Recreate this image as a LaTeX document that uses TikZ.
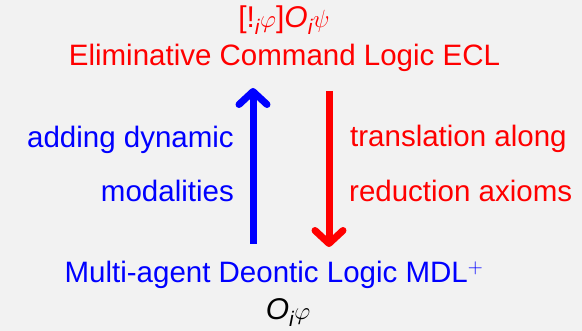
\documentclass[tikz,border=0pt]{standalone}
\usepackage{amsmath}
\usepackage{fontspec}
\setmainfont{Liberation Sans}
\usetikzlibrary{arrows.meta}
\begin{document}
\begin{tikzpicture}[x=1pt,y=-1pt,
  txt/.style={inner sep=0pt,font=\fontsize{29.5}{34}\selectfont},
  frm/.style={inner sep=0pt,font=\fontsize{30}{34}\selectfont},
  arr/.style={line width=7pt,-{Straight Barb[length=13pt,width=28pt,round]}}]
\fill[black!5] (0,0) rectangle (582,331);
\useasboundingbox (0,0) rectangle (582,331);
\definecolor{myblue}{RGB}{0,0,255}
\definecolor{myred}{RGB}{255,0,0}
\node[frm,text=myred,anchor=base] (f1) at (284,28) {{[}!$_{\textit{i}}\varphi${]}\textit{O}$_{\textit{i}}\psi$};
\node[txt,text=myred,anchor=base] (ecl) at (284.5,66) {Eliminative Command Logic ECL};
\node[txt,text=myblue,anchor=base] (mdl) at (274,283) {Multi-agent Deontic Logic MDL$^{+}$};
\node[frm,anchor=base] (f2) at (288,320) {\textit{O}$_{\textit{i}}\varphi$};
\node[txt,text=myblue,anchor=base east] (a1) at (234,148) {adding dynamic};
\node[txt,text=myblue,anchor=base east] (a2) at (234,202) {modalities};
\node[txt,text=myred,anchor=base west] (b1) at (350,147) {translation along};
\node[txt,text=myred,anchor=base west] (b2) at (349,202) {reduction axioms};
\coordinate (bs) at (253,244);
\coordinate (be) at (253,88);
\coordinate (rs) at (329,91);
\coordinate (re) at (329,247);
\draw[arr,myblue] (bs) -- (be);
\draw[arr,myred] (rs) -- (re);
\end{tikzpicture}
\end{document}
